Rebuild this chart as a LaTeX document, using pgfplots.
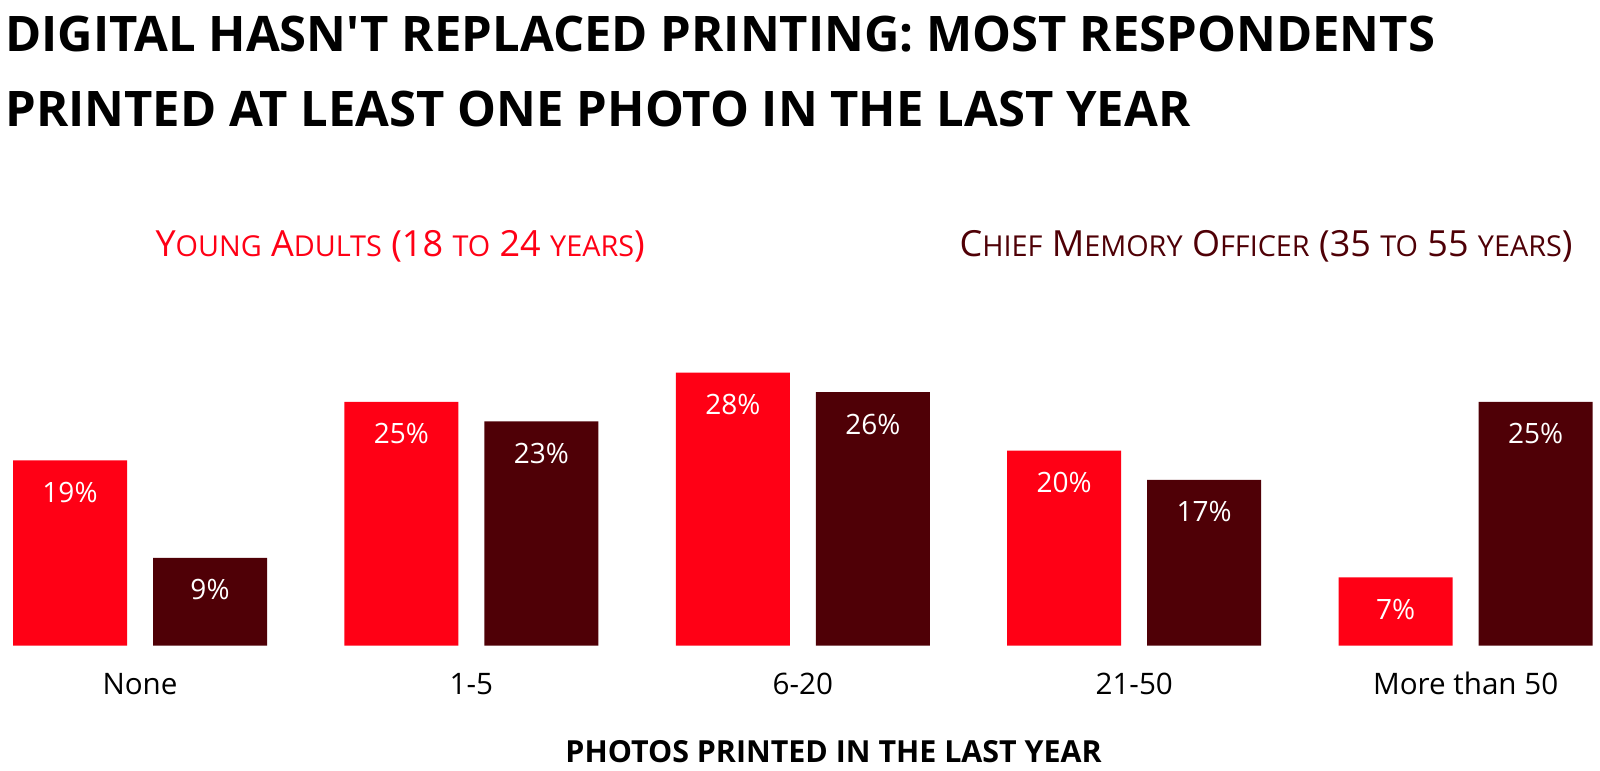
\documentclass[border=0pt]{standalone}
\usepackage{fontspec}
\setmainfont{Open Sans}[Ligatures=TeXOff]
\usepackage{pgfplots}
\pgfplotsset{compat=1.18}

\definecolor{young}{HTML}{FF0015}
\definecolor{chief}{HTML}{4F0006}

% fake small caps: lowercase part set as smaller capitals
\newcommand{\smc}[1]{{\fontsize{14.4}{14.4}\selectfont #1}}

\begin{document}
\begin{tikzpicture}
\begin{axis}[
    scale only axis,
    width=800pt, height=318.5pt,
    xmin=-0.4225, xmax=4.4055,
    ymin=0, ymax=65.33,
    clip=false,
    ybar=13pt, bar width=57pt,
    axis line style={draw=none},
    tick style={draw=none},
    ytick=\empty,
    xtick={0,1,2,3,4},
    xticklabels={None, 1-5, 6-20, 21-50, More than 50},
    xticklabel style={font=\fontsize{14.8}{16}\selectfont, anchor=base, yshift=-20pt},
    /pgf/number format/assume math mode=true,
    nodes near coords={\pgfmathprintnumber{\pgfplotspointmeta}\%},
    every node near coord/.append style={font=\fontsize{14}{15}\selectfont, text=white, anchor=base, yshift=-21pt},
]
\addplot[fill=young, draw=none] coordinates {(0,19) (1,25) (2,28) (3,20) (4,7)};
\addplot[fill=chief, draw=none] coordinates {(0,9) (1,23) (2,26) (3,17) (4,25)};

% page frame, 1600 x 762 px at 0.5pt per px
\path (rel axis cs:0,1) rectangle ([yshift=-62.5pt]rel axis cs:1,0);

\node[anchor=base west, inner sep=0, font=\fontsize{24.5}{30}\selectfont\bfseries]
  at ([xshift=2.5pt, yshift=-21.5pt]rel axis cs:0,1) {DIGITAL HASN'T REPLACED PRINTING: MOST RESPONDENTS};
\node[anchor=base west, inner sep=0, font=\fontsize{24.5}{30}\selectfont\bfseries]
  at ([xshift=2.5pt, yshift=-59pt]rel axis cs:0,1) {PRINTED AT LEAST ONE PHOTO IN THE LAST YEAR};

\node[anchor=base, inner sep=0, text=young, font=\fontsize{18}{20}\selectfont]
  at (axis cs:0.785,39.9) {Y\smc{OUNG} A\smc{DULTS} (18 \smc{TO} 24 \smc{YEARS})};
\node[anchor=base east, inner sep=0, text=chief, font=\fontsize{18}{20}\selectfont]
  at (axis cs:4.324,39.9) {C\smc{HIEF} M\smc{EMORY} O\smc{FFICER} (35 \smc{TO} 55 \smc{YEARS})};

\node[anchor=base, inner sep=0, font=\fontsize{15.2}{17}\selectfont\bfseries]
  at ([yshift=-58.5pt]rel axis cs:0.521,0) {PHOTOS PRINTED IN THE LAST YEAR};
\end{axis}
\end{tikzpicture}
\end{document}
